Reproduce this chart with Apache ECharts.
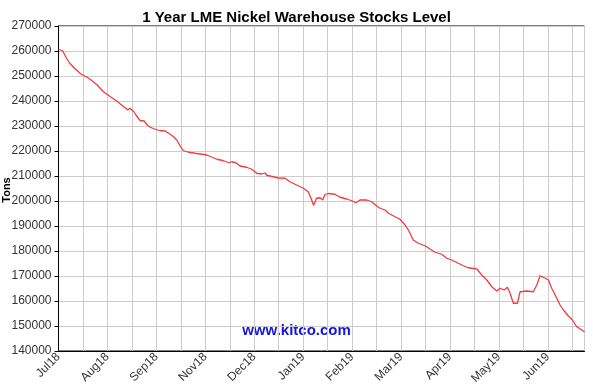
<!DOCTYPE html>
<html>
<head>
<meta charset="utf-8">
<script src="https://cdn.jsdelivr.net/npm/echarts@6/dist/echarts.min.js"></script>
<style>
html,body{margin:0;padding:0;background:#fff;}
#chart{width:593px;height:386px;}
</style>
</head>
<body>
<div id="chart"></div>
<script>
// Month labels shown every 24 trading days (index positions 0,24,48,...)
var monthLabels = ['Jul18','Aug18','Sep18','Nov18','Dec18','Jan19','Feb19','Mar19','Apr19','May19','Jun19'];
// Trading-day index positions of the sampled points
var dayIndex = [0,2,4,5.6,8,11,14,16,19,22,25,29,32,34,35,37,38,
  40,42,43.5,45,47.5,50,52.3,54,56.5,58,59.7,61.3,63.8,67,70.4,72.8,75.3,77.8,81,83.5,85,87,
  89,92.3,94.8,97.2,99.7,101.3,102.1,105.3,107.8,111.1,113.5,116.8,120.1,122.5,124.2,125.1,126.6,128.3,129.6,130.7,
  132.3,135.6,138.1,141.4,143.8,145.9,147.9,151.2,153.6,156.1,157.7,160.2,161.8,165.1,167.5,170,171.6,
  172.4,174,176.5,179.8,182.2,184.7,188,190.4,192.9,196.1,198.6,201,205.2,207.6,210.1,212.5,215,
  216.6,218.6,220.2,221.5,223.1,225.1,226.4,229.7,232.9,233.8,234.6,235.4,236.2,237,238.7,240.3,241.9,242.7,244.4,246,247.7,250.1,251.8,254.2,256.7,258];
// Warehouse stocks (tons) at those positions
var stocks = [260600,260100,257000,255000,253000,250800,249500,248400,246400,243700,242000,239700,237700,236400,237100,235700,234400,
  232200,232000,230400,229500,228700,228100,228000,227100,225700,224400,222000,220100,219500,219100,218700,218400,217500,216700,216100,215300,215700,215300,
  214000,213500,212700,211100,210800,211200,210300,209700,209200,209100,207700,206400,205100,203700,200400,198300,201100,201300,200400,202600,
  203000,202700,201500,200800,200100,199300,200400,200400,199700,198000,197100,196400,195100,193700,192700,190400,188400,
  187100,184400,183100,182100,180800,179500,178700,177100,176400,175100,174100,173300,172800,170400,168400,165700,164000,
  165100,164400,165500,163100,159100,159100,163700,164000,163700,163100,166400,167100,170100,169500,169100,168400,165100,164700,161100,158400,156400,154000,152700,149700,148400,147700];

var seriesData = dayIndex.map(function(d,i){ return [d, stocks[i]]; });

var chart = echarts.init(document.getElementById('chart'), null, {renderer:'canvas'});
var font = 'Arial, "Liberation Sans", sans-serif';
chart.setOption({
  animation: false,
  backgroundColor: '#fff',
  title: {
    text: '1 Year LME Nickel Warehouse Stocks Level',
    left: 'center', top: 5,
    textStyle: {fontFamily: font, fontSize: 15, fontWeight: 'bold', color: '#000'}
  },
  grid: {left: 58.5, right: 8.5, top: 26, bottom: 35, containLabel: false, outerBoundsMode: 'none',
         show: true, borderColor: '#000', borderWidth: 1, backgroundColor: 'transparent'},
  xAxis: {
    type: 'value', min: 0, max: 258, interval: 12,
    axisLine: {show: true, onZero: false, lineStyle: {color: '#000'}},
    axisTick: {show: false},
    splitLine: {show: true, lineStyle: {color: '#cccccc', width: 1}},
    axisLabel: {
      rotate: 45, margin: 4, fontFamily: font, fontSize: 12, color: '#333',
      showMaxLabel: false,
      formatter: function(v){ return (v % 24 === 0 && monthLabels[v/24]) ? monthLabels[v/24] : ''; }
    }
  },
  yAxis: {
    type: 'value', min: 140000, max: 270000, interval: 10000,
    axisLine: {show: true, lineStyle: {color: '#000'}},
    axisTick: {show: true, length: 4, lineStyle: {color: '#000'}},
    splitLine: {show: true, lineStyle: {color: '#cccccc', width: 1}},
    axisLabel: {margin: 7, fontFamily: font, fontSize: 12, color: '#333',
      formatter: function(v){ return String(v); }}
  },
  graphic: [{
    type: 'text', left: 'center', top: 323,
    style: {text: 'www.kitco.com', fontFamily: font, fontSize: 15, fontWeight: 'bold', fill: '#1515e0'}
  }, {
    type: 'text', x: 7, y: 190, rotation: Math.PI / 2,
    style: {text: 'Tons', fontFamily: font, fontSize: 11, fontWeight: 'bold', fill: '#000',
            textAlign: 'center', textVerticalAlign: 'middle'}
  }],
  series: [{
    type: 'line', data: seriesData, showSymbol: false, smooth: false,
    lineStyle: {color: '#f03c3c', width: 1.3}, itemStyle: {color: '#f03c3c'}
  }]
});
</script>
</body>
</html>
